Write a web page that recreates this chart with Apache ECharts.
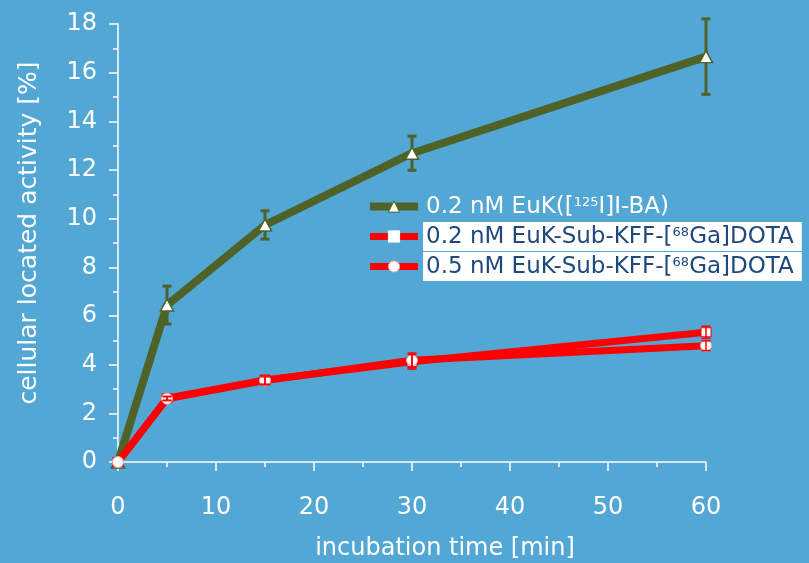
<!DOCTYPE html>
<html>
<head>
<meta charset="utf-8">
<script src="https://cdn.jsdelivr.net/npm/echarts@6/dist/echarts.min.js"></script>
<style>
html,body{margin:0;padding:0;background:#52A7D5;}
#main{width:809px;height:563px;}
</style>
</head>
<body>
<div id="main"></div>
<script>
// ---- data ----
const timesMin = [0, 5, 15, 30, 60];
const seriesNames = [
  '0.2 nM EuK([125I]I-BA)',
  '0.2 nM EuK-Sub-KFF-[68Ga]DOTA',
  '0.5 nM EuK-Sub-KFF-[68Ga]DOTA'
];
const eukIBA = [0, 6.45, 9.74, 12.69, 16.66];
const eukIBAErr = [0, 0.78, 0.58, 0.70, 1.55];
const kff02 = [0, 2.62, 3.37, 4.12, 5.33];
const kff02Err = [0, 0.08, 0.20, 0.30, 0.25];
const kff05 = [0, 2.60, 3.35, 4.18, 4.78];
const kff05Err = [0, 0.08, 0.15, 0.30, 0.20];
const xTicks = [0, 10, 20, 30, 40, 50, 60];
const yTicks = [0, 2, 4, 6, 8, 10, 12, 14, 16, 18];
const xTitle = 'incubation time [min]';
const yTitle = 'cellular located activity [%]';

const GREEN = '#4F6228';
const RED = '#FF0000';
const FONT = 'DejaVu Sans';

function pairs(xs, ys) { return xs.map((x, i) => [x, ys[i]]); }
function errData(xs, ys, es) {
  const out = [];
  xs.forEach((x, i) => { if (es[i] > 0) out.push([x, ys[i] - es[i], ys[i] + es[i]]); });
  return out;
}
function errRender(color, lw, capW) {
  return function (params, api) {
    const x = api.value(0);
    const lo = api.coord([x, api.value(1)]);
    const hi = api.coord([x, api.value(2)]);
    const h = capW / 2;
    return {
      type: 'group',
      children: [
        { type: 'line', shape: { x1: lo[0], y1: lo[1], x2: hi[0], y2: hi[1] }, style: { stroke: color, lineWidth: lw } },
        { type: 'line', shape: { x1: lo[0] - h, y1: lo[1], x2: lo[0] + h, y2: lo[1] }, style: { stroke: color, lineWidth: lw } },
        { type: 'line', shape: { x1: hi[0] - h, y1: hi[1], x2: hi[0] + h, y2: hi[1] }, style: { stroke: color, lineWidth: lw } }
      ]
    };
  };
}

const chart = echarts.init(document.getElementById('main'), null, { renderer: 'canvas' });
const option = {
  backgroundColor: '#52A7D5',
  animation: false,
  textStyle: { fontFamily: FONT },
  grid: { left: 118, right: 103, top: 24, bottom: 101, containLabel: false, outerBoundsMode: 'none' },
  xAxis: {
    type: 'value', min: xTicks[0], max: xTicks[xTicks.length - 1], interval: 10,
    name: xTitle, nameLocation: 'middle', nameGap: 75,
    nameTextStyle: { color: '#fff', fontSize: 24, fontFamily: FONT, padding: [0, 0, 0, 66] },
    axisLine: { lineStyle: { color: '#fff', width: 1.5 } },
    axisTick: { show: true, length: 9, inside: false, lineStyle: { color: '#fff', width: 1.5 } },
    minorTick: { show: true, splitNumber: 2, length: 5, lineStyle: { color: '#fff', width: 1.5 } },
    axisLabel: { color: '#fff', fontSize: 24, fontFamily: FONT, margin: 34 },
    splitLine: { show: false }
  },
  yAxis: {
    type: 'value', min: yTicks[0], max: yTicks[yTicks.length - 1], interval: 2,
    name: yTitle, nameLocation: 'middle', nameGap: 76, nameRotate: 90,
    nameTextStyle: { color: '#fff', fontSize: 25, fontFamily: FONT, padding: [0, 0, 0, 20] },
    axisLine: { lineStyle: { color: '#fff', width: 1.5 } },
    axisTick: { show: true, length: 9, inside: false, lineStyle: { color: '#fff', width: 1.5 } },
    minorTick: { show: true, splitNumber: 2, length: 5, lineStyle: { color: '#fff', width: 1.5 } },
    axisLabel: { color: '#fff', fontSize: 24, fontFamily: FONT, margin: 21 },
    splitLine: { show: false }
  },
  legend: {
    orient: 'vertical', left: 366, top: 192, padding: 0,
    itemWidth: 48, itemHeight: 14, itemGap: 1,
    selectedMode: false,
    formatter: function (name) {
      return name.replace('[125I]', '[{sup|125}I]').replace('[68Ga]', '[{sup|68}Ga]');
    },
    textStyle: {
      fontFamily: FONT, fontSize: 23, lineHeight: 22, color: '#fff',
      padding: [4, 8, 3, 3],
      rich: { sup: { fontSize: 13, lineHeight: 16, verticalAlign: 'top', fontFamily: FONT } }
    },
    data: [
      { name: seriesNames[0], textStyle: { color: '#ffffff' },
        lineStyle: { width: 8, color: GREEN },
        itemStyle: { color: '#ffffff', borderColor: GREEN, borderWidth: 1 } },
      { name: seriesNames[1], textStyle: { color: '#1F497D', backgroundColor: '#ffffff' },
        lineStyle: { width: 7, color: RED },
        itemStyle: { color: '#ffffff', borderColor: '#ffffff', borderWidth: 1 } },
      { name: seriesNames[2], textStyle: { color: '#1F497D', backgroundColor: '#ffffff' },
        lineStyle: { width: 7, color: RED },
        itemStyle: { color: '#ffffff', borderColor: '#F4A0A0', borderWidth: 1 } }
    ]
  },
  series: [
    {
      type: 'custom', name: 'err0', z: 1, silent: true,
      renderItem: errRender(GREEN, 3, 9),
      data: errData(timesMin, eukIBA, eukIBAErr)
    },
    {
      type: 'line', name: seriesNames[0], z: 2, silent: true,
      data: pairs(timesMin, eukIBA),
      symbol: 'triangle', symbolSize: [13, 12], showSymbol: true,
      lineStyle: { color: GREEN, width: 8 },
      itemStyle: { color: '#ffffff', borderColor: GREEN, borderWidth: 1.5 }
    },
    {
      type: 'line', name: seriesNames[1], z: 3, silent: true,
      data: pairs(timesMin, kff02),
      symbol: 'rect', symbolSize: [10, 9], showSymbol: true,
      lineStyle: { color: RED, width: 7 },
      itemStyle: { color: '#ffffff', borderColor: RED, borderWidth: 1 }
    },
    {
      type: 'line', name: seriesNames[2], z: 4, silent: true,
      data: pairs(timesMin, kff05),
      symbol: 'circle', symbolSize: 11, showSymbol: true,
      lineStyle: { color: RED, width: 7 },
      itemStyle: { color: '#ffffff', borderColor: '#F4A0A0', borderWidth: 1 }
    },
    {
      type: 'custom', name: 'err1', z: 5, silent: true,
      renderItem: errRender(RED, 1.5, 9),
      data: errData(timesMin, kff02, kff02Err)
    },
    {
      type: 'custom', name: 'err2', z: 5, silent: true,
      renderItem: errRender(RED, 1.5, 9),
      data: errData(timesMin, kff05, kff05Err)
    }
  ]
};
chart.setOption(option);
</script>
</body>
</html>
